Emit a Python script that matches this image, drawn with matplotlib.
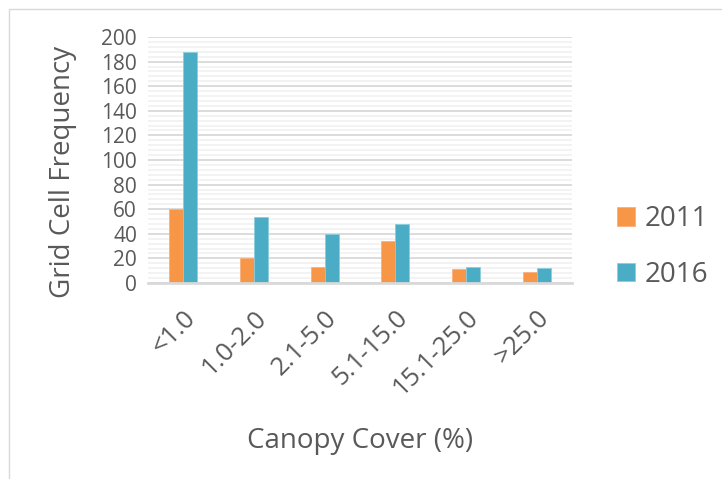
import numpy as np
import matplotlib
matplotlib.use("Agg")
import matplotlib.pyplot as plt
from matplotlib.patches import Rectangle
from matplotlib.ticker import MultipleLocator

categories = ["<1.0", "1.0-2.0", "2.1-5.0", "5.1-15.0", "15.1-25.0", ">25.0"]
vals_2011 = [60, 20, 13, 34, 11, 9]
vals_2016 = [188, 54, 40, 48, 13, 12]

plt.rcParams['font.family'] = ['Open Sans', 'DejaVu Sans']
grey = '#595959'

fig = plt.figure(figsize=(7.22, 4.79), dpi=100)
ax = fig.add_axes([148/722, 1-283/479, 424/722, 246/479])

# chart frame
fig.patches.append(Rectangle((9/722, -0.1), 1.2, 1-9/479+0.1, transform=fig.transFigure,
                             fill=False, edgecolor='#D9D9D9', linewidth=1))

x = np.arange(len(categories))
w = 0.2
ax.bar(x - w/2, vals_2011, w, color='#F79646', edgecolor='#FAB07E', linewidth=0.6, label='2011', zorder=3)
ax.bar(x + w/2, vals_2016, w, color='#4BACC6', edgecolor='#8CCDDD', linewidth=0.6, label='2016', zorder=3)

ax.set_xlim(-0.5, len(categories) - 0.5)
ax.set_ylim(0, 200)
ax.yaxis.set_major_locator(MultipleLocator(20))
ax.yaxis.set_minor_locator(MultipleLocator(4))
ax.grid(axis='y', which='major', color='#D9D9D9', linewidth=1.3, zorder=0)
ax.grid(axis='y', which='minor', color='#F2F2F2', linewidth=1.3, zorder=0)
ax.set_axisbelow(True)

for s in ['top', 'right', 'left']:
    ax.spines[s].set_visible(False)
ax.spines['bottom'].set_color('#D9D9D9')
ax.spines['bottom'].set_linewidth(2)
ax.spines['bottom'].set_zorder(4)

ax.tick_params(axis='both', which='both', length=0, colors=grey, labelsize=15)
ax.tick_params(axis='y', pad=8)
ax.set_xticks(x)
ax.set_xticklabels(categories, rotation=45, ha='right', rotation_mode='anchor')
ax.tick_params(axis='x', pad=16, labelsize=18.5)

ax.set_ylabel('Grid Cell Frequency', fontsize=20, color=grey)
ax.yaxis.set_label_coords(-0.167, 0.45)
ax.set_xlabel('Canopy Cover (%)', fontsize=20, color=grey)
ax.xaxis.set_label_coords(0.5, -0.585)

ax.legend(loc='center left', bbox_to_anchor=(592/722, 1-247/479), bbox_transform=fig.transFigure,
          frameon=False, fontsize=20, labelcolor=grey, handlelength=0.65, handleheight=0.65,
          handletextpad=0.35, labelspacing=1.0)

fig.savefig('out.png', dpi=100)
